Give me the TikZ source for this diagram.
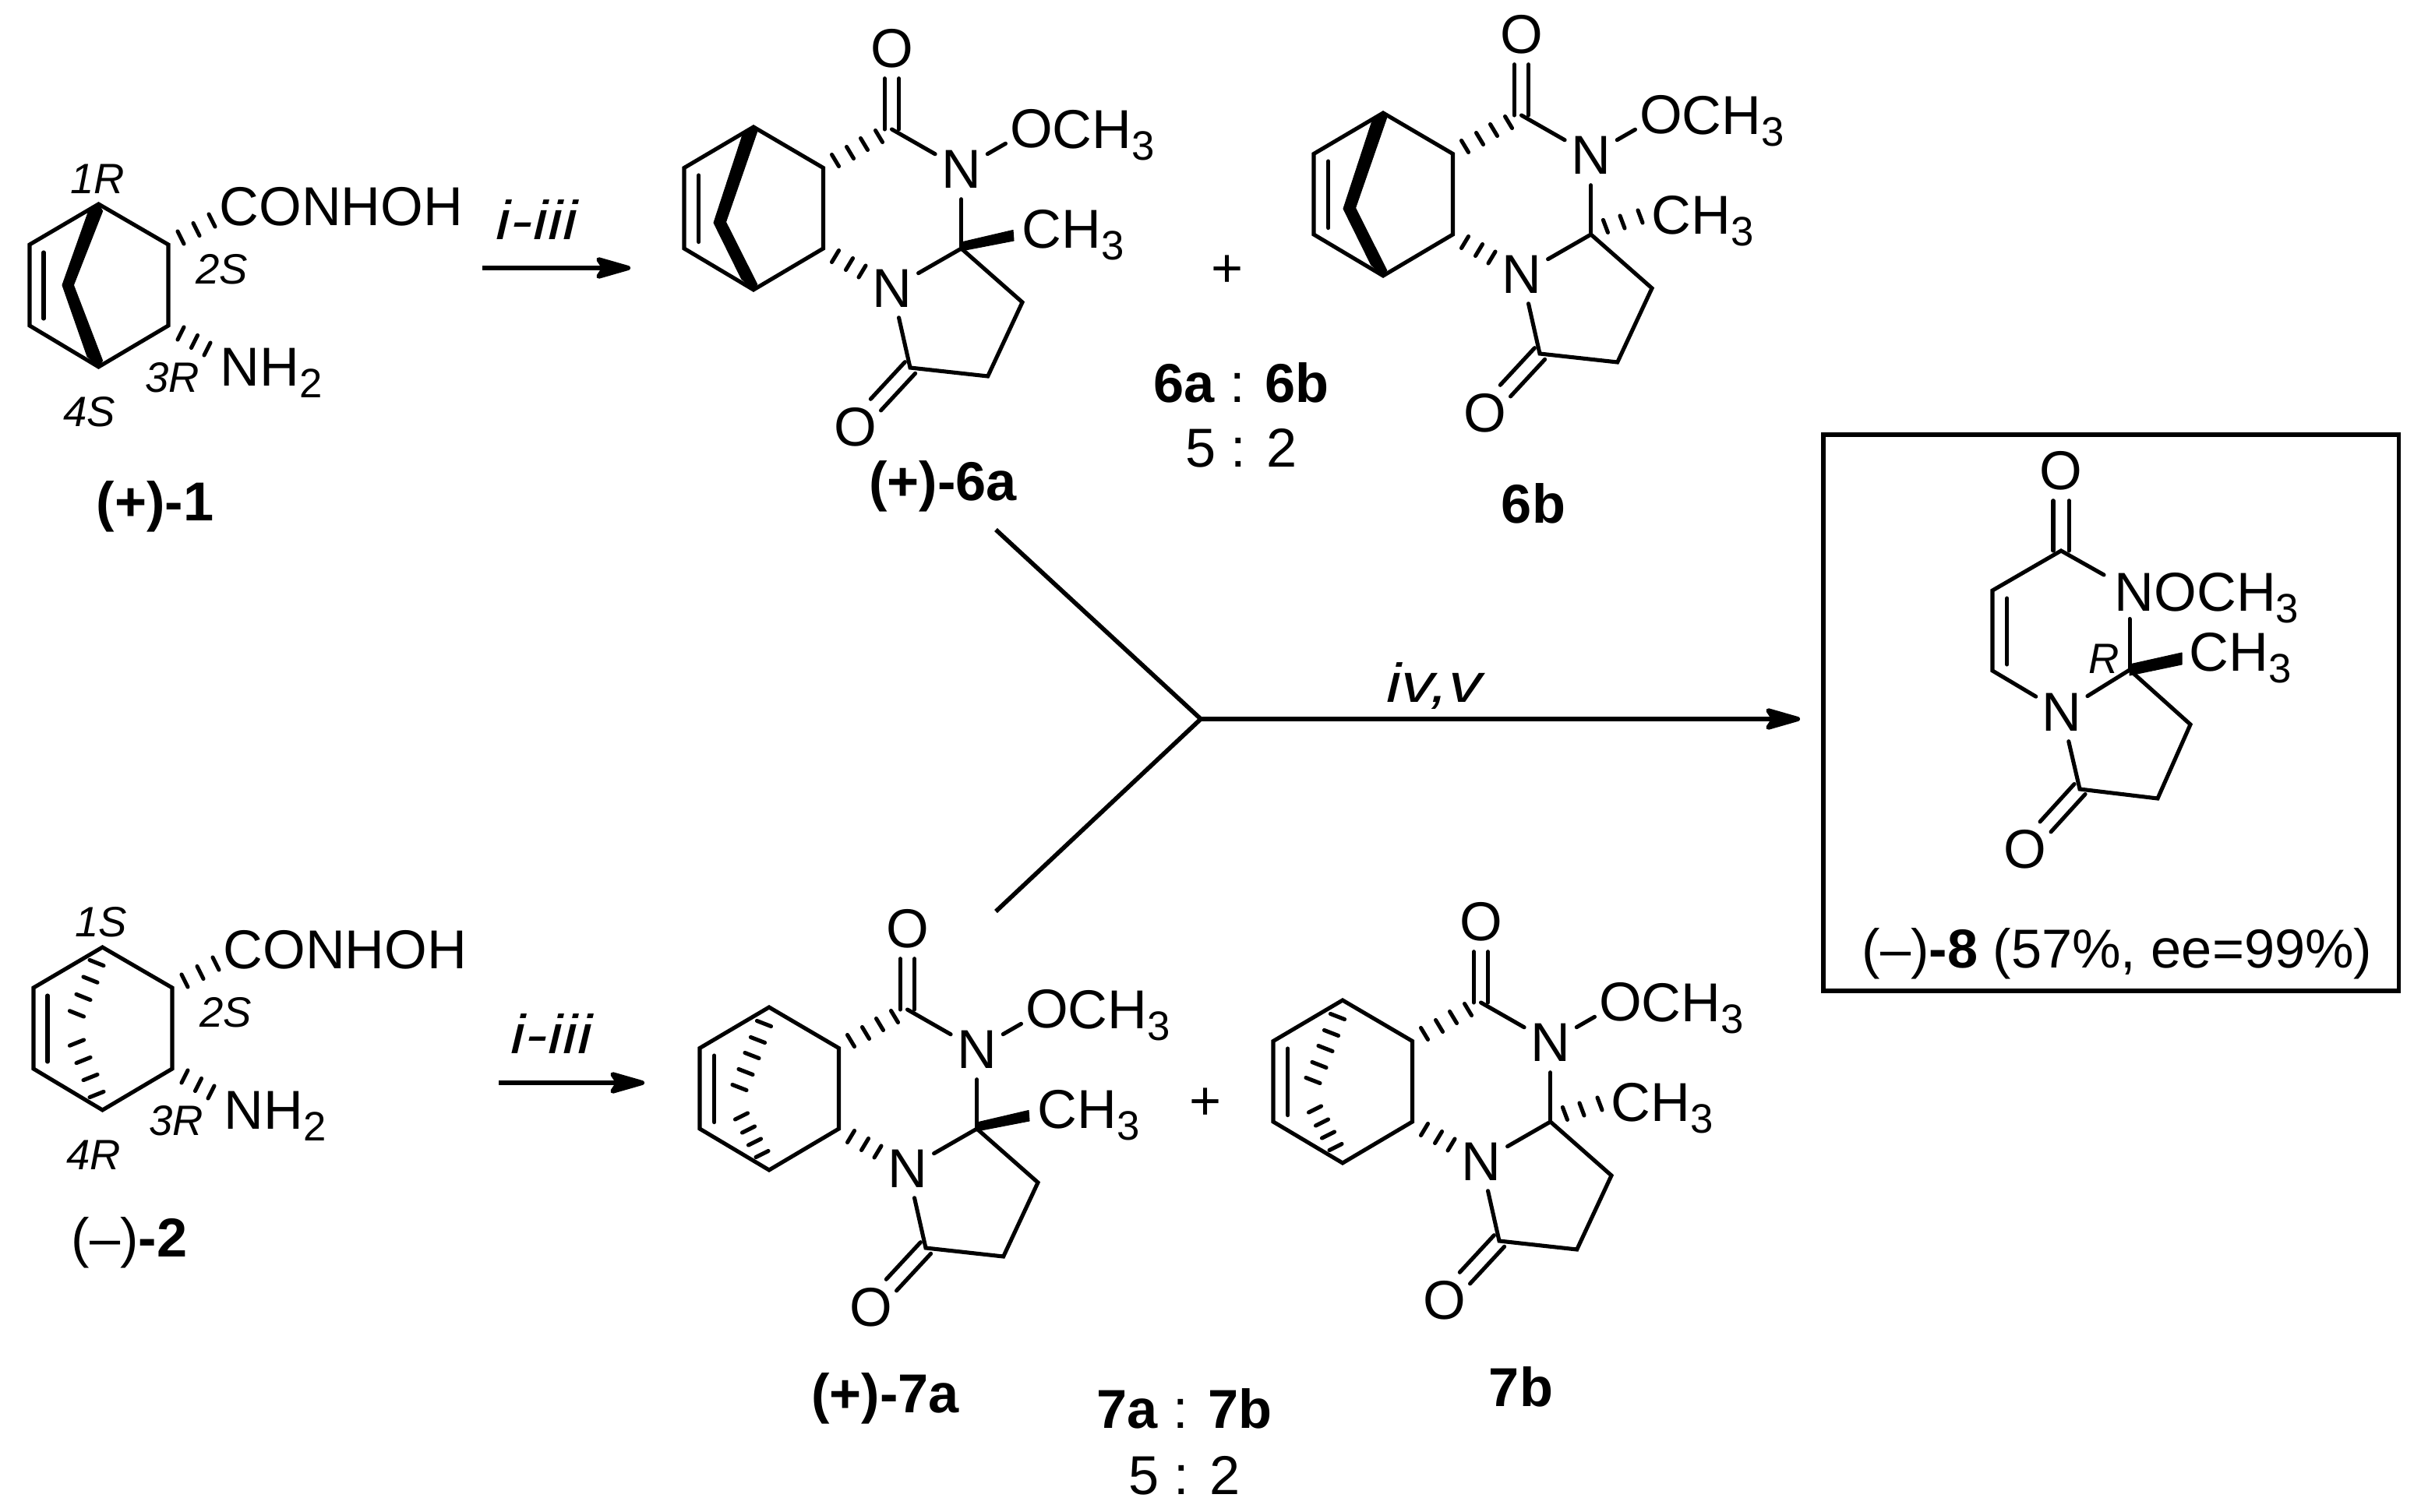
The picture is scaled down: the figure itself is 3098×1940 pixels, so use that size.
\documentclass[tikz,border=0pt]{standalone}
\usepackage{fontspec}
\setmainfont{Liberation Sans}
\usetikzlibrary{arrows.meta}

\newcommand\mainsize{\fontsize{20}{24}\selectfont}
\newcommand\smallsize{\fontsize{15.5}{18}\selectfont}
\newcommand\stepfont{\mainsize\itshape\addfontfeature{FakeStretch=1.22}}
\newcommand\subthree{\raisebox{-0.15cm}{\fontsize{15}{15}\selectfont 3}}
\newcommand\subtwo{\raisebox{-0.15cm}{\fontsize{15}{15}\selectfont 2}}

\tikzset{
  bond/.style={line width=1.45pt, line cap=round, line join=miter},
  hashbond/.style={line width=1.45pt, line cap=round},
  wedge/.style={fill=black, draw=black, line width=0.3pt, line join=round},
  atom/.style={circle, minimum size=0.76cm},
  lbl/.style={anchor=base west},
  stereo/.style={font=\smallsize\itshape},
  tag/.style={anchor=base},
  react/.style={line width=1.6pt},
  tip/.style={line width=1.7pt, -{Stealth[length=0.55cm, width=0.31cm, inset=0.1cm, round]}},
}

% bridges and methyl groups of the tricycles
\newcommand\boldbridge{
  \fill[wedge] (top) -- (954,170) -- (916,286) -- (951.6,358) -- (bot)
    -- (971.7,365) -- (931.5,285) -- (972,168) -- cycle;
}
\newcommand\hashbridge{
  \foreach \cx/\cy in {960.5/184, 952.5/205, 945/225, 937/246, 929/266}
    \draw[hashbond] (\cx-9,\cy-3.5) -- (\cx+9,\cy+3.5);
  \foreach \cx/\cy in {931.5/303, 940.5/320, 948.5/336, 958/351.5}
    \draw[hashbond] (\cx-8,\cy+4) -- (\cx+8,\cy-4);
}
\newcommand\boldmethyl{
  \fill[wedge] (1233.7,311) -- (1300,295.5) -- (1301,309) -- (1233.7,322) -- cycle;
}
\newcommand\hashmethyl{
  \foreach \cx/\cy in {1252.4/308.4, 1274/303, 1297/296}
    \draw[hashbond] (\cx-3,\cy-8) -- (\cx+3,\cy+8);
}

\newcommand\tricycle[5]{
  \begin{scope}[shift={(#2,#3)}, name prefix=#1-]
    \coordinate (top) at (967,163);
    \coordinate (ur) at (1056.5,215.5);
    \coordinate (lr) at (1056.5,319);
    \coordinate (bot) at (967,372);
    \coordinate (ll) at (878,319);
    \coordinate (ul) at (878,215.5);
    \coordinate (db1) at (896.7,225);
    \coordinate (db2) at (896.7,310.6);
    \coordinate (cc) at (1144.5,166);
    \coordinate (cq) at (1233.7,319);
    \coordinate (ca) at (1312,388);
    \coordinate (cb) at (1267.7,483);
    \coordinate (cl) at (1168,472);

    \node[atom] (oa) at (1144.5,62) {O};
    \node[atom] (na) at (1233.7,217) {N};
    \node[atom] (om) at (1324,165) {O};
    \node[atom] (nb) at (1145,370) {N};
    \node[atom] (ob) at (1097.6,548) {O};
    \node[lbl] (mea) at (1350,190.5) {CH\subthree};
    \node[lbl] (meb) at (1311,318.5) {CH\subthree};

    \draw[bond] (top) -- (ur) -- (lr) -- (bot) -- (ll) -- (ul) -- cycle;
    \draw[bond] (db1) -- (db2);
    \draw[bond, transform canvas={xshift=-0.0925cm}] (oa) -- (cc);
    \draw[bond, transform canvas={xshift=0.0925cm}] (oa) -- (cc);
    \draw[bond] (cc) -- (na);
    \draw[bond] (na) -- (om);
    \draw[bond] (na) -- (cq);
    \draw[bond] (nb) -- (cq);
    \draw[bond] (cq) -- (ca) -- (cb) -- (cl) -- (nb);
    \draw[bond, transform canvas={shift={(-0.066cm,0.073cm)}}] (cl) -- (ob);
    \draw[bond, transform canvas={shift={(0.066cm,-0.073cm)}}] (cl) -- (ob);
    \foreach \cx/\cy in {1072/206, 1091/196, 1109/185, 1128/175}
      \draw[hashbond] (\cx-4.5,\cy-7.5) -- (\cx+4.5,\cy+7.5);
    \foreach \cx/\cy in {1072/329, 1090/339, 1106.5/348.5}
      \draw[hashbond] (\cx-4.5,\cy+7.5) -- (\cx+4.5,\cy-7.5);
    #4
    #5
  \end{scope}
}

\newcommand\aminoacid[6]{
  \begin{scope}[shift={(#2,#3)}, name prefix=#1-]
    \coordinate (top) at (126.5,262);
    \coordinate (ur) at (216,314);
    \coordinate (lr) at (216,418);
    \coordinate (bot) at (126.5,471);
    \coordinate (ll) at (38,418);
    \coordinate (ul) at (38,314);
    \coordinate (db1) at (56,324);
    \coordinate (db2) at (56,409);

    \draw[bond] (top) -- (ur) -- (lr) -- (bot) -- (ll) -- (ul) -- cycle;
    \draw[bond] (db1) -- (db2);
    \foreach \cx/\cy in {232/305, 252/294.5, 272/283}
      \draw[hashbond] (\cx-4,\cy-8) -- (\cx+4,\cy+8);
    \foreach \cx/\cy in {232/428, 249.5/438.5, 266/448}
      \draw[hashbond] (\cx-4,\cy+8) -- (\cx+4,\cy-8);
    #4

    \node[lbl] (acid) at (281,289.5) {CONHOH};
    \node[lbl] (amine) at (282,495.5) {NH\subtwo};
    \node[stereo] (ca) at (125,230) {#5};
    \node[stereo] (cb) at (285,345.5) {2\textit{S}};
    \node[stereo] (cc) at (221,485) {3\textit{R}};
    \node[stereo] (cd) at (115,529) {#6};
  \end{scope}
}

\begin{document}
\begin{tikzpicture}[x=0.01cm, y=-0.01cm, every node/.style={font=\mainsize, inner sep=0pt}]
  \useasboundingbox (0,0) rectangle (3098,1940);

  \aminoacid{one}{0}{0}{
    \fill[wedge] (top) -- (113,273) -- (80,366) -- (112,457.6) -- (bot)
      -- (131.6,463) -- (94.4,366) -- (131.6,271) -- cycle;
  }{1\textit{R}}{4\textit{S}}
  \aminoacid{two}{5}{954}{
    \foreach \cx/\cy in {119/282, 111/303.6, 102/326, 93.5/347.4}
      \draw[hashbond] (\cx-9,\cy-3.6) -- (\cx+9,\cy+3.6);
    \foreach \cx/\cy in {93.5/384.6, 102/407, 111/429, 119/451}
      \draw[hashbond] (\cx-9,\cy+3.6) -- (\cx+9,\cy-3.6);
  }{1\textit{S}}{4\textit{R}}

  \tricycle{sixa}{0}{0}{\boldbridge}{\boldmethyl}
  \tricycle{sixb}{808}{-18}{\boldbridge}{\hashmethyl}
  \tricycle{sevena}{20}{1130}{\hashbridge}{\boldmethyl}
  \tricycle{sevenb}{756}{1121}{\hashbridge}{\hashmethyl}

  % product in its box
  \draw[bond] (2340,558) rectangle (3078,1272);
  \coordinate (cc) at (2645,707);
  \coordinate (ch) at (2557,758);
  \coordinate (cn) at (2557,861);
  \coordinate (db1) at (2575.6,768);
  \coordinate (db2) at (2575.6,853);
  \coordinate (cq) at (2733,860);
  \coordinate (nt) at (2733,794.5);
  \coordinate (ne) at (2700,738);
  \coordinate (ca) at (2811,930);
  \coordinate (cb) at (2769,1025);
  \coordinate (cl) at (2669,1013);
  \node[atom] (oa) at (2645,604) {O};
  \node[atom] (nb) at (2646,914) {N};
  \node[atom] (ob) at (2599,1090) {O};
  \node[lbl] (nome) at (2713,784) {NOCH\subthree};
  \node[lbl] (me) at (2809,861) {CH\subthree};
  \node[stereo] (rr) at (2700,846) {\textit{R}};
  \draw[bond, transform canvas={xshift=-0.1cm}] (oa) -- (cc);
  \draw[bond, transform canvas={xshift=0.1cm}] (oa) -- (cc);
  \draw[bond] (ne) -- (cc) -- (ch) -- (cn) -- (nb);
  \draw[bond] (db1) -- (db2);
  \draw[bond] (nt) -- (cq);
  \draw[bond] (nb) -- (cq) -- (ca) -- (cb) -- (cl) -- (nb);
  \draw[bond, transform canvas={shift={(-0.07cm,0.065cm)}}] (cl) -- (ob);
  \draw[bond, transform canvas={shift={(0.07cm,-0.065cm)}}] (cl) -- (ob);
  \fill[wedge] (2733,853) -- (2800,838) -- (2800,853) -- (2733,867) -- cycle;

  % labels
  \node[tag, font=\mainsize\bfseries] (lone) at (199,668) {(+)-1};
  \node[tag] (ltwo) at (166,1613) {(–)\textbf{-2}};
  \node[tag, font=\mainsize\bfseries] (lsixa) at (1210,642) {(+)-6a};
  \node[tag, font=\mainsize\bfseries] (lsixb) at (1968,671) {6b};
  \node[tag, font=\mainsize\bfseries] (lsevena) at (1136,1813) {(+)-7a};
  \node[tag, font=\mainsize\bfseries] (lsevenb) at (1952,1805) {7b};
  \node[tag] (rsix) at (1593,517) {\textbf{6a} : \textbf{6b}};
  \node[tag] (qsix) at (1593,600) {5 : 2};
  \node[tag] (rseven) at (1520,1833) {\textbf{7a} : \textbf{7b}};
  \node[tag] (qseven) at (1520,1918) {5 : 2};
  \node (psix) at (1575,348) {+};
  \node (pseven) at (1547,1417) {+};
  \node[tag] (leight) at (2717,1242) {(–)\textbf{-8} (57\%, ee=99\%)};

  % reactions
  \coordinate (ras) at (619,344);
  \coordinate (rae) at (809,344);
  \coordinate (rbs) at (640,1390);
  \coordinate (rbe) at (827,1390);
  \coordinate (mtop) at (1278,680);
  \coordinate (mlow) at (1278,1170);
  \coordinate (mjoin) at (1541,923);
  \coordinate (mend) at (2310,923);
  \draw[tip] (ras) -- (rae);
  \draw[tip] (rbs) -- (rbe);
  \draw[react] (mtop) -- (mjoin) -- (mlow);
  \draw[tip] (mjoin) -- (mend);
  \node[font=\stepfont] (cra) at (689,282) {i-iii};
  \node[font=\stepfont] (crb) at (708,1327) {i-iii};
  \node[font=\stepfont] (crc) at (1841,881) {iv,v};
\end{tikzpicture}
\end{document}
